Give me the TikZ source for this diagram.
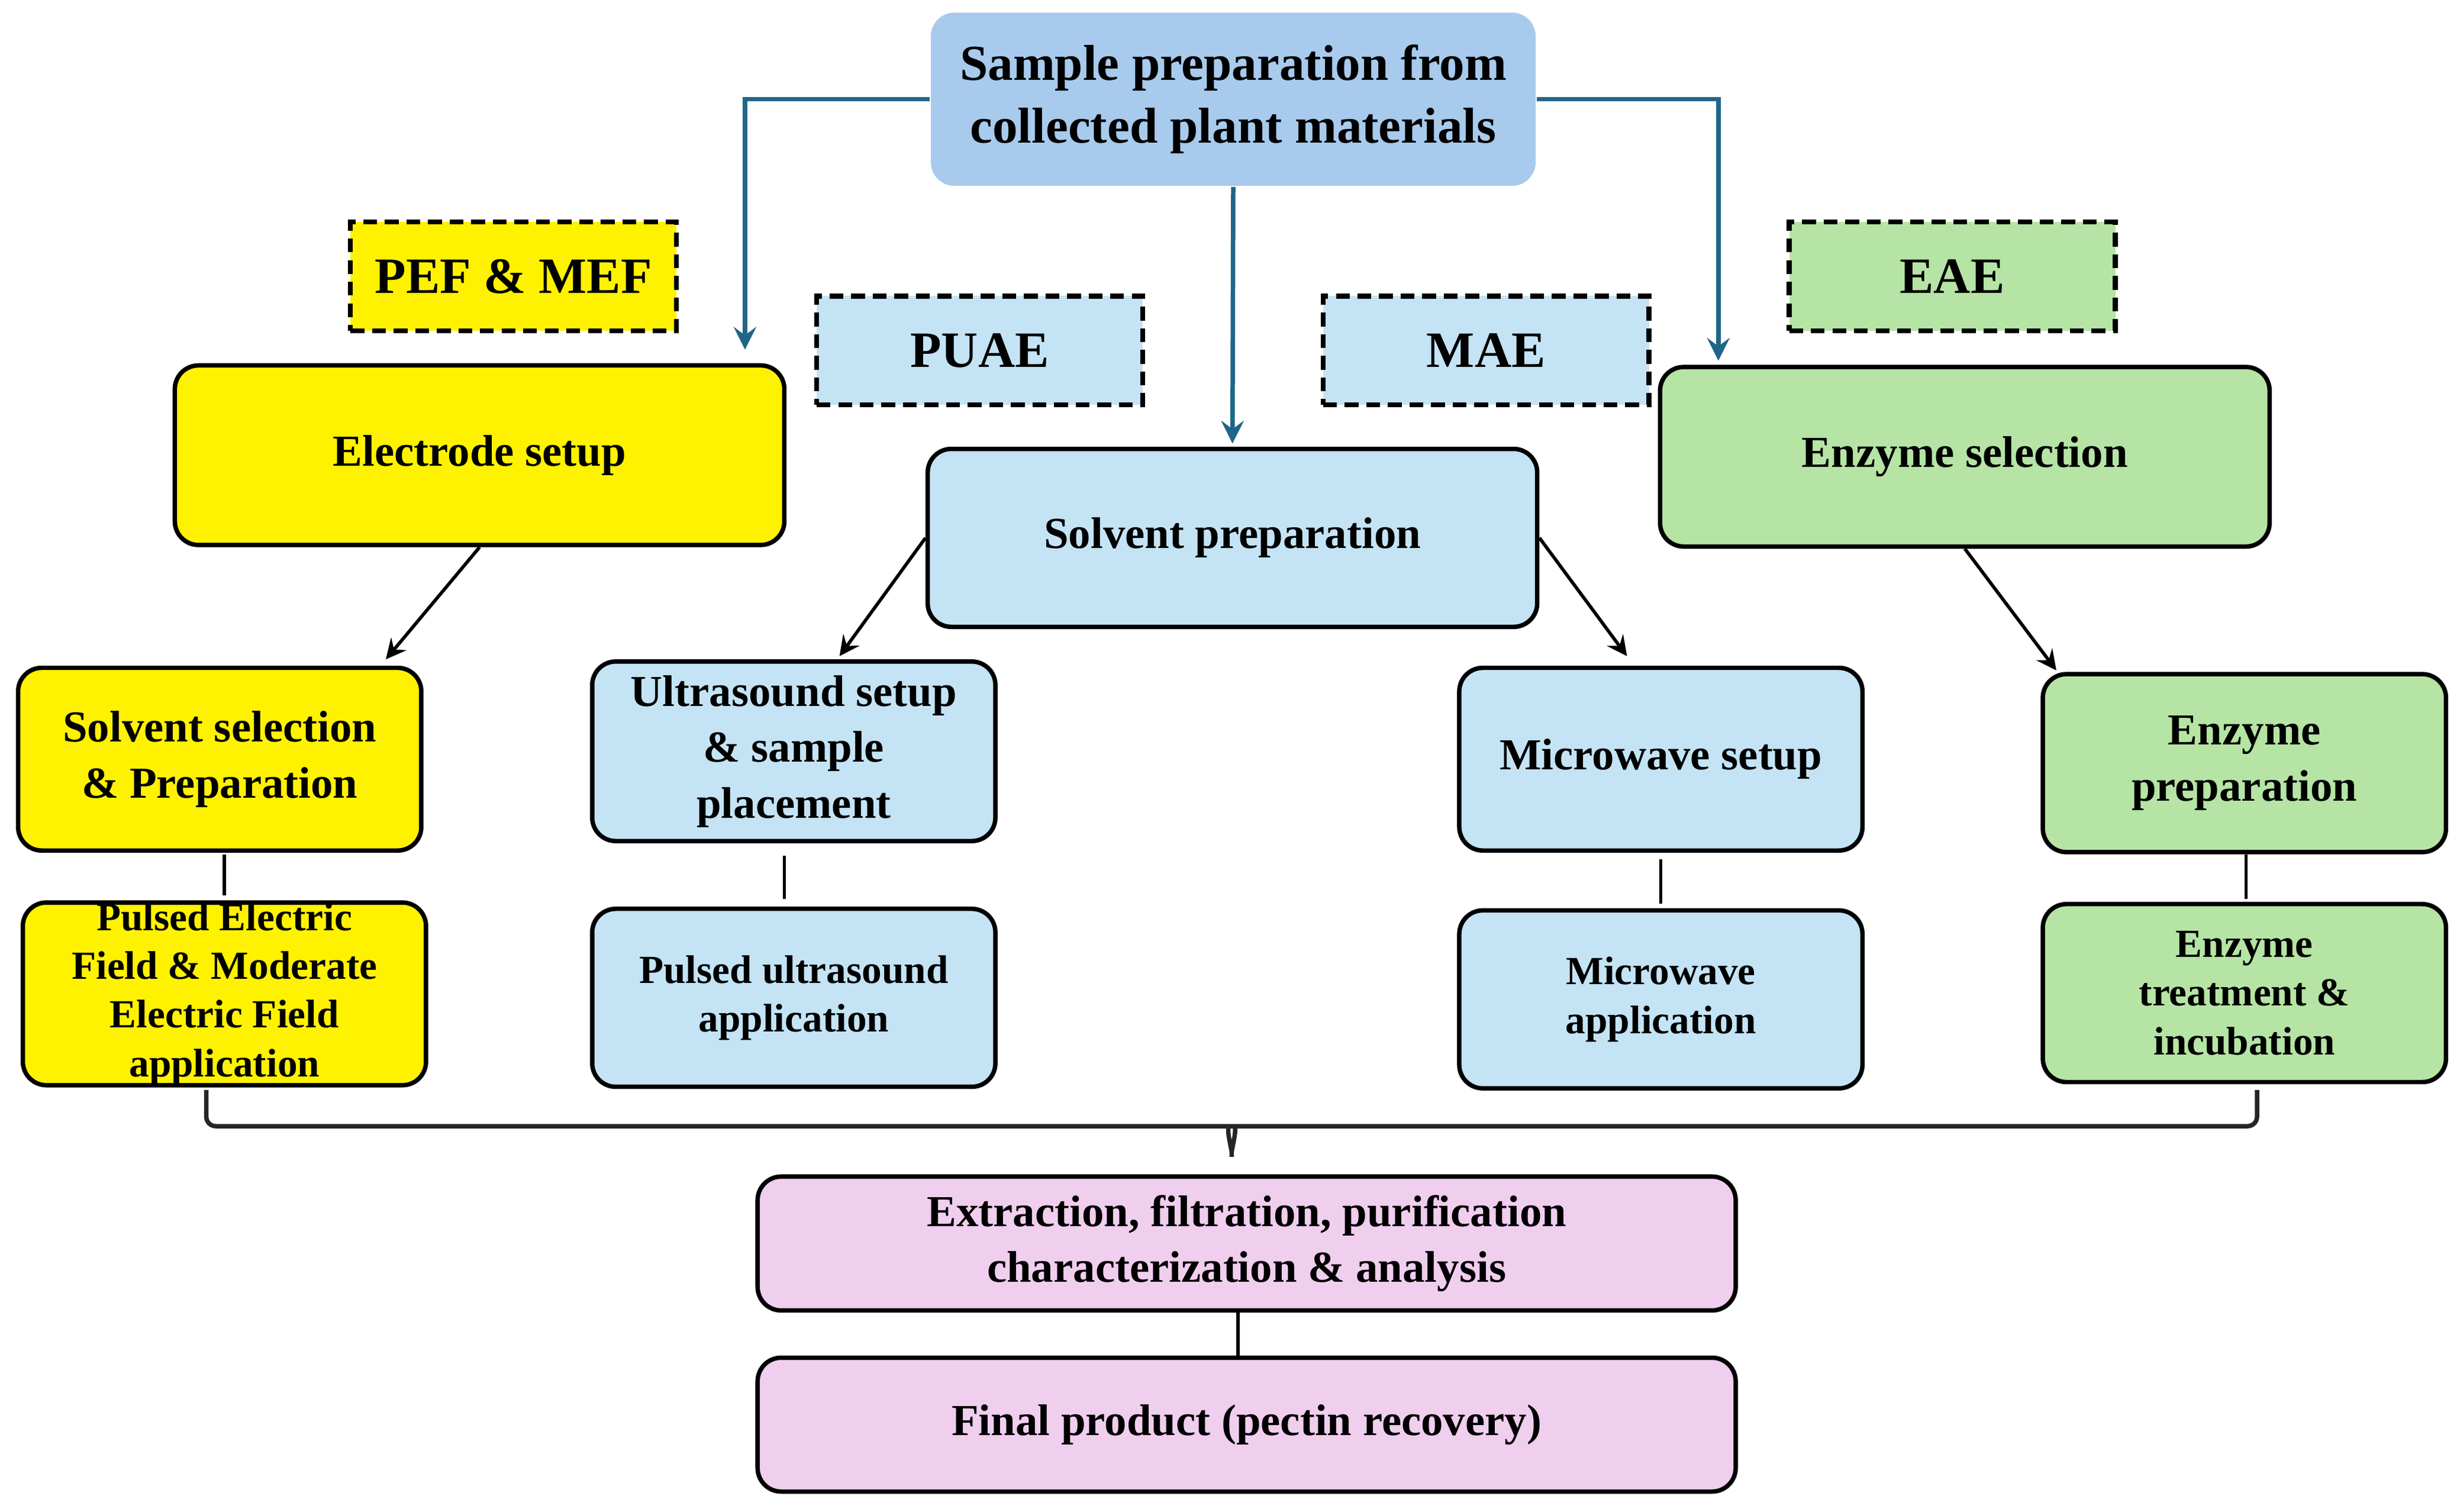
\documentclass[tikz,border=0pt]{standalone}
\usepackage{xcolor}
\usepackage{fontspec}
\setmainfont{Liberation Serif}
\usepackage{tikz}
\usetikzlibrary{shapes, arrows, positioning, calc}
\definecolor{topblue}{RGB}{168,202,236}
\definecolor{skyblue}{RGB}{196,228,245}
\definecolor{leafgreen}{RGB}{181,228,164}
\definecolor{pinkbox}{RGB}{240,206,238}
\definecolor{linkteal}{RGB}{31,102,136}
\newcommand{\titlefont}{\fontsize{9.1}{11.4}\selectfont\bfseries}
\newcommand{\labelfont}{\fontsize{9.2}{11}\selectfont\bfseries}
\newcommand{\boxfont}{\fontsize{8}{10.1}\selectfont\bfseries}
\newcommand{\smallfont}{\fontsize{7.2}{8.8}\selectfont\bfseries}
\tikzstyle{topbox} = [rectangle, rounded corners=0.15cm, minimum width=3.84cm, minimum height=1.1cm, inner sep=0pt, align=center, fill=topblue, font=\titlefont]
\tikzstyle{method} = [rectangle, minimum width=2.07cm, minimum height=0.69cm, inner sep=0pt, draw=black, line width=0.9pt, dash pattern=on 2.5pt off 1.4pt, font=\labelfont]
\tikzstyle{stage} = [rectangle, rounded corners=0.15cm, minimum width=3.87cm, minimum height=1.14cm, inner sep=0pt, align=center, draw=black, line width=0.8pt, font=\boxfont]
\tikzstyle{substep} = [stage, minimum width=2.56cm, minimum height=1.15cm]
\tikzstyle{smallstep} = [substep, minimum height=1.13cm, font=\smallfont]
\tikzstyle{closing} = [stage, minimum width=6.21cm, minimum height=0.85cm, fill=pinkbox]
\tikzstyle{arrow} = [semithick,->,>=stealth]
\tikzstyle{feed} = [line width=0.8pt, draw=linkteal, ->, >=stealth]
\tikzstyle{link} = [semithick]
\tikzstyle{bracket} = [black!85, line width=0.8pt, rounded corners=0.06cm]

\begin{document}
\begin{tikzpicture}
					\useasboundingbox (0,0) rectangle (15.6,-9.596);
					\node (sample) [topbox] at (7.83,-0.63) {Sample preparation from\\collected plant materials};

					\node (pef) [method, fill=yellow] at (3.26,-1.755) {PEF \& MEF};
					\node (puae) [method, fill=skyblue] at (6.22,-2.225) {PUAE};
					\node (mae) [method, fill=skyblue] at (9.435,-2.225) {MAE};
					\node (eae) [method, fill=leafgreen] at (12.395,-1.755) {EAE};

					\node (electrode) [stage, fill=yellow] at (3.045,-2.89) {Electrode setup};
					\node (solvprep) [stage, fill=skyblue, minimum height=1.13cm] at (7.825,-3.415) {Solvent preparation};
					\node (enzsel) [stage, fill=leafgreen] at (12.475,-2.90) {Enzyme selection};

					\node (solvsel) [substep, fill=yellow, minimum height=1.16cm] at (1.395,-4.82) {Solvent selection\\\& Preparation};
					\node (ultra) [substep, fill=skyblue, minimum height=1.14cm] at (5.04,-4.77) {Ultrasound setup\\\& sample\\placement};
					\node (mwset) [substep, fill=skyblue, minimum height=1.16cm] at (10.545,-4.82) {Microwave setup};
					\node (enzprep) [substep, fill=leafgreen, minimum height=1.13cm] at (14.25,-4.845) {Enzyme\\preparation};

					\node (pefapp) [smallstep, fill=yellow, minimum height=1.16cm] at (1.425,-6.31) {Pulsed Electric\\Field \& Moderate\\Electric Field\\application};
					\node (usapp) [smallstep, fill=skyblue] at (5.04,-6.335) {Pulsed ultrasound\\application};
					\node (mwapp) [smallstep, fill=skyblue] at (10.545,-6.345) {Microwave\\application};
					\node (enztreat) [smallstep, fill=leafgreen] at (14.25,-6.305) {Enzyme\\treatment \&\\incubation};

					\node (extract) [closing] at (7.915,-7.895) {Extraction, filtration, purification\\characterization \& analysis};
					\node (final) [closing] at (7.915,-9.045) {Final product (pectin recovery)};

					\coordinate (pefin) at (4.73,-2.22);
					\coordinate (eaein) at (10.91,-2.29);
					\coordinate (braceleft) at (1.31,-6.92);
					\coordinate (braceright) at (14.33,-6.92);
					\coordinate (bracetip) at (7.82,-7.38);

					\draw [feed] (sample.west) -| (pefin);
					\draw [feed] (sample.east) -| (eaein);
					\draw [feed] (sample.south) -- ([yshift=0.02cm]solvprep.north);

					\draw [arrow] (electrode.south) -- ([xshift=1.055cm,yshift=0.04cm]solvsel.north);
					\draw [arrow] (solvprep.west) -- ([xshift=0.29cm,yshift=0.02cm]ultra.north);
					\draw [arrow] (solvprep.east) -- ([xshift=-0.215cm,yshift=0.06cm]mwset.north);
					\draw [arrow] (enzsel.south) -- ([xshift=0.1cm,yshift=0.01cm]enzprep.north west);

					\draw [link, shorten <=0.01cm, shorten >=0.03cm] ([xshift=0.03cm]solvsel.south) -- ([xshift=0.03cm]solvsel.south |- pefapp.north);
					\draw [link, shorten <=0.08cm, shorten >=0.05cm] ([xshift=-0.06cm]ultra.south) -- ([xshift=-0.06cm]ultra.south |- usapp.north);
					\draw [link, shorten <=0.04cm, shorten >=0.03cm] (mwset.south) -- (mwset.south |- mwapp.north);
					\draw [link, shorten >=0.02cm] ([xshift=0.01cm]enzprep.south) -- ([xshift=0.01cm]enzprep.south |- enztreat.north);
					\draw [link] ([xshift=-0.055cm]extract.south) -- ([xshift=-0.055cm]extract.south |- final.north);

					% bracket gathering the four methods
					\draw [bracket] (braceleft) |- ($(bracetip)+(-0.05,0.23)$) to[out=0,in=90] (bracetip) to[out=90,in=180] ($(bracetip)+(0.05,0.23)$) -| (braceright);
			\end{tikzpicture}
\end{document}
